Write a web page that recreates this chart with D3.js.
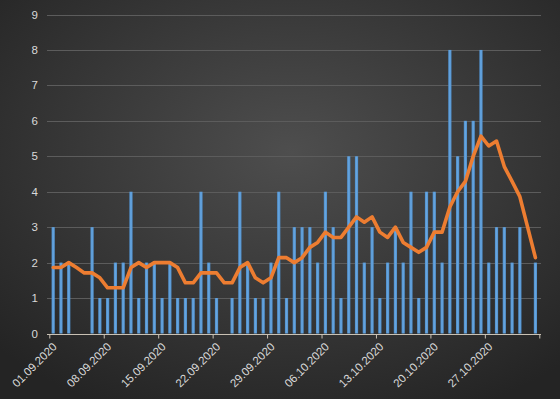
<!DOCTYPE html>
<html>
<head>
<meta charset="utf-8">
<script src="https://cdn.jsdelivr.net/npm/d3@7"></script>
<style>
  html, body { margin: 0; padding: 0; background: #2a2a2a; }
  svg { display: block; }
  .axis text, .ylabels text { font-family: "Liberation Sans", Arial, sans-serif; font-size: 11.5px; fill: #d9d9d9; }
</style>
</head>
<body>
<svg id="chart" width="560" height="399"></svg>
<script>
// daily cases, 01.09.2020 - 02.11.2020
const startDate = "2020-09-01";
const endDate = "2020-11-03";
const dailyCases = [3, 2, 2, 0, 0, 3, 1, 1, 2, 2, 4, 1, 2, 2, 1, 2, 1, 1, 1, 4, 2,
                    1, 0, 1, 4, 2, 1, 1, 2, 4, 1, 3, 3, 3, 2, 4, 3, 1, 5, 5, 2, 3,
                    1, 2, 3, 2, 4, 1, 4, 4, 2, 8, 5, 6, 6, 8, 2, 3, 3, 2, 3, 0, 2];
// orange line (7 day avg)
const avgLine = [1.86, 1.86, 2.00, 1.86, 1.71, 1.71, 1.57, 1.29, 1.29, 1.29, 1.86, 2.00, 1.86, 2.00,
                 2.00, 2.00, 1.86, 1.43, 1.43, 1.71, 1.71, 1.71, 1.43, 1.43, 1.86, 2.00, 1.57, 1.43,
                 1.57, 2.14, 2.14, 2.00, 2.14, 2.43, 2.57, 2.86, 2.71, 2.71, 3.00, 3.29, 3.14, 3.29,
                 2.86, 2.71, 3.00, 2.57, 2.43, 2.29, 2.43, 2.86, 2.86, 3.57, 4.00, 4.29, 5.00, 5.57,
                 5.29, 5.43, 4.71, 4.29, 3.86, 3.00, 2.14];
const yTicks = [0, 1, 2, 3, 4, 5, 6, 7, 8, 9];
const tickLabels = ["01.09.2020", "08.09.2020", "15.09.2020", "22.09.2020", "29.09.2020",
                    "06.10.2020", "13.10.2020", "20.10.2020", "27.10.2020", ""];

const svg = d3.select("#chart");
var width = +svg.attr("width"), height = +svg.attr("height");

// background gradient
const defs = svg.append("defs");
const bg = defs.append("radialGradient").attr("id", "bg")
    .attr("cx", "52%").attr("cy", "38%").attr("r", "72%");
bg.append("stop").attr("offset", "0%").attr("stop-color", "#4e4e4e");
bg.append("stop").attr("offset", "100%").attr("stop-color", "#242424");
const barGrad = defs.append("linearGradient").attr("id", "barGrad")
    .attr("x1", "0%").attr("x2", "100%");
barGrad.append("stop").attr("offset", "0%").attr("stop-color", "#4f8fcc");
barGrad.append("stop").attr("offset", "50%").attr("stop-color", "#67a6e0");
barGrad.append("stop").attr("offset", "100%").attr("stop-color", "#4f8fcc");
svg.append("rect").attr("width", width).attr("height", height).attr("fill", "url(#bg)");

var parse = d3.utcParse("%Y-%m-%d");
var days = d3.utcDay.range(parse(startDate), parse(endDate));
var data = days.map((d, i) => ({date: d, cases: dailyCases[i], avg: avgLine[i]}));
// a tick every 7 days, incl. the closing one
var tickDates = d3.range(tickLabels.length).map(i => d3.utcDay.offset(parse(startDate), i * 7));

// scales
var scaleX = d3.scaleUtc().domain([parse(startDate), parse(endDate)]).range([49.3, 539.3]);
var scaleY = d3.scaleLinear().domain([0, 9]).range([333.5, 14.5]);
var mid = d => d3.utcHour.offset(d, 12);

// horizontal gridlines
svg.append("g").attr("class", "gridlines")
    .selectAll("line").data(yTicks.slice(1)).join("line")
    .attr("x1", 47).attr("x2", 541)
    .attr("y1", d => Math.round(scaleY(d)) + 0.5).attr("y2", d => Math.round(scaleY(d)) + 0.5)
    .attr("stroke", "#5c5c5c").attr("stroke-width", 1);

// y labels
svg.append("g").attr("class", "ylabels")
    .selectAll("text").data(yTicks).join("text")
    .attr("x", 38).attr("y", d => scaleY(d))
    .attr("dy", "0.35em").attr("text-anchor", "end")
    .text(d => d);

// bars
svg.append("g").selectAll("rect").data(data).join("rect")
    .attr("x", d => scaleX(mid(d.date)) - 1.6)
    .attr("width", 3.2)
    .attr("y", d => scaleY(d.cases))
    .attr("height", d => scaleY(0) - scaleY(d.cases))
    .attr("fill", "url(#barGrad)");

// x axis
var bottomAxis = d3.axisBottom(scaleX).tickValues(tickDates).tickSize(4)
    .tickFormat((d, i) => tickLabels[i]);
var xAxis = svg.append("g").attr("class", "axis")
    .attr("transform", `translate(0,${Math.round(scaleY(0)) + 0.5})`)
    .call(bottomAxis);
xAxis.select(".domain").attr("stroke", "#c9c1b4").attr("d", "M47,0H541");
xAxis.selectAll(".tick line").attr("stroke", "#c9c1b4");
xAxis.selectAll(".tick text")
    .attr("text-anchor", "end")
    .attr("transform", "translate(5,10) rotate(-45)")
    .attr("x", 0).attr("y", 0).attr("dy", "0.35em");

// moving average line
var line = d3.line().x(d => scaleX(mid(d.date))).y(d => scaleY(d.avg));
svg.append("path").datum(data)
    .attr("d", line)
    .attr("fill", "none")
    .attr("stroke", "#ed7d31")
    .attr("stroke-width", 3.6)
    .attr("stroke-linejoin", "round")
    .attr("stroke-linecap", "round");
</script>
</body>
</html>
